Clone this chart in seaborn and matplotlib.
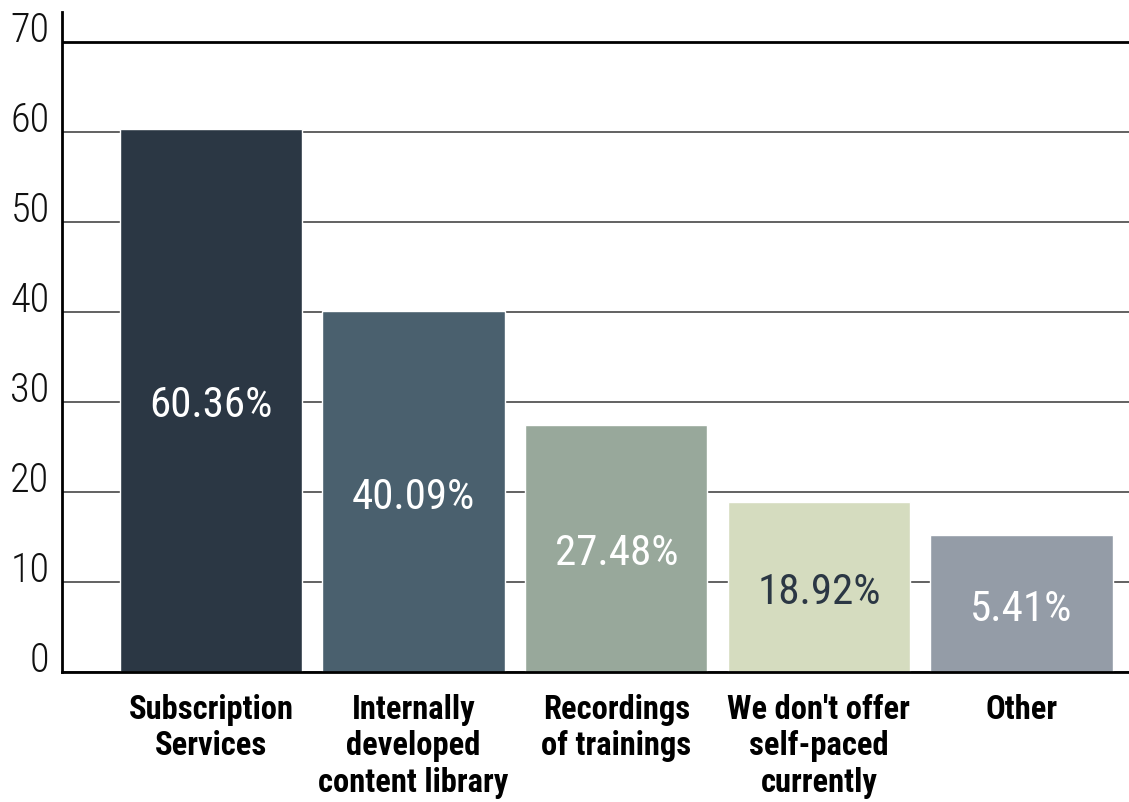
import matplotlib
matplotlib.use("Agg")
import matplotlib.pyplot as plt
import pandas as pd
import seaborn as sns

categories = [
    "Subscription\nServices",
    "Internally\ndeveloped\ncontent library",
    "Recordings\nof trainings",
    "We don't offer\nself-paced\ncurrently",
    "Other",
]
bar_heights = [60.36, 40.09, 27.48, 18.92, 15.2]
value_labels = ["60.36%", "40.09%", "27.48%", "18.92%", "5.41%"]
bar_colors = ["#2b3744", "#4a606e", "#98a89b", "#d5dcbf", "#949ca7"]
label_colors = ["white", "white", "white", "#2b3744", "white"]
y_ticks = [0, 10, 20, 30, 40, 50, 60, 70]

sns.set_theme(style="white")
plt.rcParams["font.family"] = ["Roboto Condensed", "DejaVu Sans"]

df = pd.DataFrame({"category": categories, "value": bar_heights})

fig = plt.figure(figsize=(11.29, 8.02), dpi=100)
ax = fig.add_axes([62 / 1129, 130 / 802, 1 - 62 / 1129, 660 / 802])

sns.barplot(data=df, x="category", y="value", hue="category",
            palette=bar_colors, width=0.9, legend=False, saturation=1, ax=ax)

ax.set_ylim(0, 73.3)
ax.set_xlim(-0.735, 4.53)
ax.set_yticks(y_ticks)
ax.set_axisbelow(True)
ax.yaxis.grid(True, color="#555555", lw=1.3)
ax.get_ygridlines()[-1].set(color="black", lw=2)

for side in ("top", "right"):
    ax.spines[side].set_visible(False)
for side in ("left", "bottom"):
    ax.spines[side].set(color="black", lw=2)

ax.tick_params(axis="both", length=0)
ax.tick_params(axis="y", pad=9, labelsize=29)
ax.tick_params(axis="x", pad=16)
for lab in ax.get_yticklabels():
    lab.set_verticalalignment("baseline")
    lab.set_color("#111111")
    lab.set_fontweight(300)
for lab in ax.get_xticklabels():
    lab.set_fontsize(23.5)
    lab.set_fontweight("bold")
    lab.set_linespacing(1.17)
    lab.set_verticalalignment("top")
    lab.set_color("black")

ax.set_xlabel("")
ax.set_ylabel("")

for i, (h, txt, c) in enumerate(zip(bar_heights, value_labels, label_colors)):
    ax.annotate(txt, (i, h / 2), xytext=(0, -4), textcoords="offset points",
                ha="center", va="center", color=c, fontsize=31, fontweight=400)

fig.savefig("out.png", dpi=100)
